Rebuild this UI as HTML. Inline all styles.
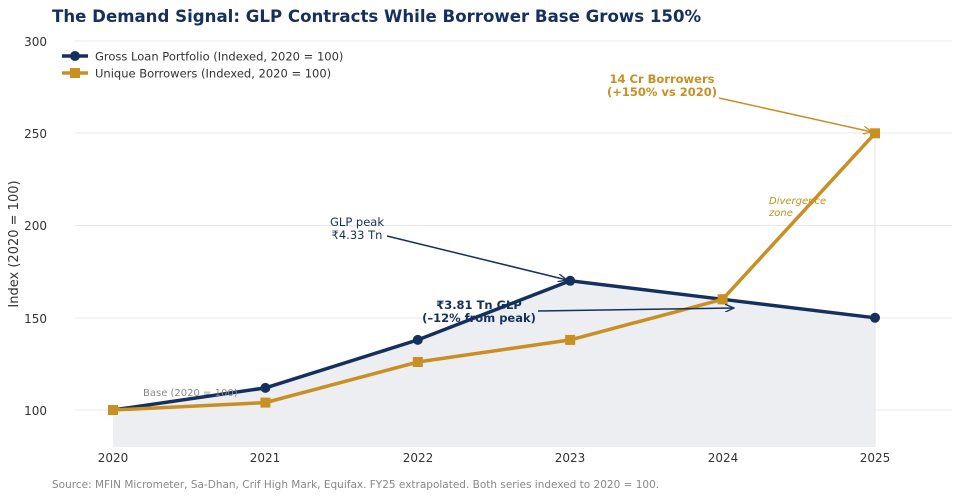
<!DOCTYPE html>
<html><head><meta charset="utf-8"><style>
body{margin:0;background:#fff;}
svg{display:block;font-family:"DejaVu Sans","Liberation Sans",sans-serif;}
</style></head><body>
<svg width="960" height="499" viewBox="0 0 960 499" xmlns="http://www.w3.org/2000/svg">
<defs>
<marker id="an" markerWidth="10" markerHeight="8" refX="9" refY="4" orient="auto" markerUnits="userSpaceOnUse"><path d="M0,0 L9,4 L0,8" fill="none" stroke="#15305f" stroke-width="1.3"/></marker>
<marker id="ag" markerWidth="10" markerHeight="8" refX="9" refY="4" orient="auto" markerUnits="userSpaceOnUse"><path d="M0,0 L9,4 L0,8" fill="none" stroke="#c98f22" stroke-width="1.3"/></marker>
</defs>
<text x="52" y="22" font-size="16.6" font-weight="bold" fill="#15305f">The Demand Signal: GLP Contracts While Borrower Base Grows 150%</text>
<g stroke="#e8e8ea" stroke-width="1">
<line x1="75" y1="41" x2="952" y2="41"/><line x1="75" y1="133" x2="952" y2="133"/><line x1="75" y1="225.5" x2="952" y2="225.5"/><line x1="75" y1="318" x2="952" y2="318"/><line x1="75" y1="410" x2="952" y2="410"/>
</g>
<g font-size="12" fill="#333" text-anchor="end">
<text x="47" y="46">300</text><text x="47" y="138">250</text><text x="47" y="230">200</text><text x="47" y="323">150</text><text x="47" y="415">100</text>
</g>
<g font-size="12" fill="#333" text-anchor="middle">
<text x="113" y="462">2020</text><text x="265" y="462">2021</text><text x="418" y="462">2022</text><text x="570" y="462">2023</text><text x="723" y="462">2024</text><text x="875" y="462">2025</text>
</g>
<text transform="translate(18,244) rotate(-90)" font-size="13" fill="#333" text-anchor="middle">Index (2020 = 100)</text>
<polygon points="113,410 265.4,387.9 417.8,339.9 570.2,280.8 722.6,299.3 875,317.8 875,447 113,447" fill="#eceef2"/>
<line x1="875" y1="133" x2="875" y2="447" stroke="#e6e6ea" stroke-width="1"/>
<polyline points="113,410 265.4,387.9 417.8,339.9 570.2,280.8 722.6,299.3 875,317.8" fill="none" stroke="#15305f" stroke-width="3.5"/>
<g fill="#15305f"><circle cx="113" cy="410" r="5"/><circle cx="265.4" cy="387.9" r="5"/><circle cx="417.8" cy="339.9" r="5"/><circle cx="570.2" cy="280.8" r="5"/><circle cx="722.6" cy="299.3" r="5"/><circle cx="875" cy="317.8" r="5"/></g>
<polyline points="113,410 265.4,402.6 417.8,362 570.2,339.9 722.6,299.3 875,133.3" fill="none" stroke="#c98f22" stroke-width="3.5"/>
<g fill="#c98f22"><rect x="108" y="405" width="10" height="10"/><rect x="260.4" y="397.6" width="10" height="10"/><rect x="412.8" y="357" width="10" height="10"/><rect x="565.2" y="334.9" width="10" height="10"/><rect x="717.6" y="294.3" width="10" height="10"/><rect x="870" y="128.3" width="10" height="10"/></g>
<text x="143" y="396" font-size="10" fill="#888">Base (2020 = 100)</text>
<text x="769" y="204" font-size="10" font-style="italic" fill="#c98f22">Divergence</text>
<text x="769" y="216" font-size="10" font-style="italic" fill="#c98f22">zone</text>
<text x="357" y="226" font-size="11.5" fill="#15305f" text-anchor="middle">GLP peak</text>
<text x="357" y="239" font-size="11.5" fill="#15305f" text-anchor="middle">₹4.33 Tn</text>
<line x1="387" y1="236" x2="567" y2="280" stroke="#15305f" stroke-width="1.5" marker-end="url(#an)"/>
<text x="479" y="309" font-size="11.5" font-weight="bold" fill="#15305f" text-anchor="middle">₹3.81 Tn GLP</text>
<text x="479" y="322" font-size="11.5" font-weight="bold" fill="#15305f" text-anchor="middle">(–12% from peak)</text>
<line x1="538" y1="311" x2="734" y2="308" stroke="#15305f" stroke-width="1.5" marker-end="url(#an)"/>
<text x="662" y="83" font-size="11.5" font-weight="bold" fill="#c98f22" text-anchor="middle">14 Cr Borrowers</text>
<text x="662" y="96" font-size="11.5" font-weight="bold" fill="#c98f22" text-anchor="middle">(+150% vs 2020)</text>
<line x1="719" y1="98" x2="872" y2="132" stroke="#c98f22" stroke-width="1.5" marker-end="url(#ag)"/>
<line x1="62" y1="56" x2="88" y2="56" stroke="#15305f" stroke-width="3.5"/><circle cx="75" cy="56" r="5" fill="#15305f"/>
<text x="95" y="60.5" font-size="11.5" fill="#333">Gross Loan Portfolio (Indexed, 2020 = 100)</text>
<line x1="62" y1="73" x2="88" y2="73" stroke="#c98f22" stroke-width="3.5"/><rect x="70" y="68" width="10" height="10" fill="#c98f22"/>
<text x="95" y="77.5" font-size="11.5" fill="#333">Unique Borrowers (Indexed, 2020 = 100)</text>
<text x="52" y="488" font-size="10.5" fill="#888">Source: MFIN Micrometer, Sa-Dhan, Crif High Mark, Equifax. FY25 extrapolated.  Both series indexed to 2020 = 100.</text>
</svg>
</body></html>
